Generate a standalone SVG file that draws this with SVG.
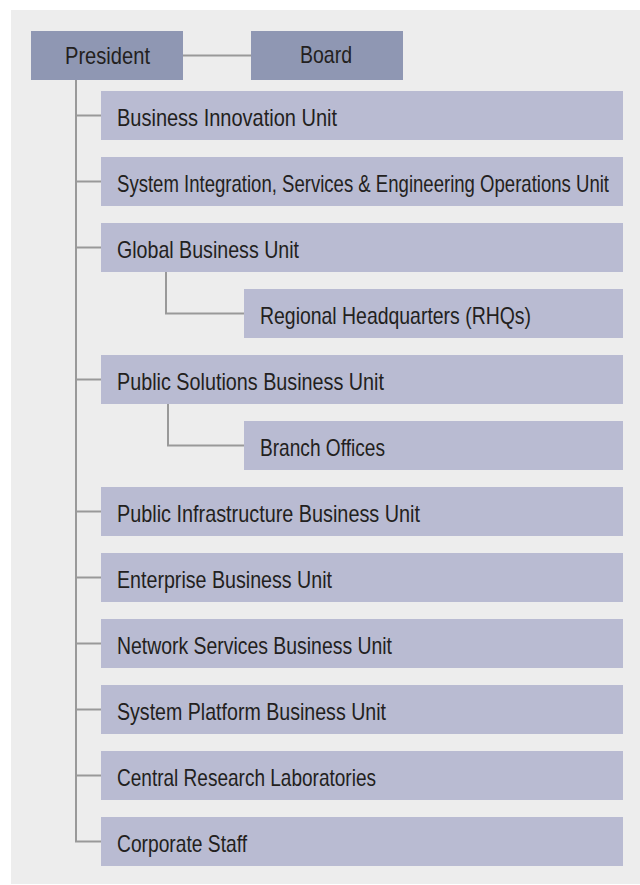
<svg xmlns="http://www.w3.org/2000/svg" width="640" height="885" viewBox="0 0 640 885">
<style>
.top{fill:#8f97b3}
.unit{fill:#b9bbd2}
.t{font-family:"Liberation Sans Narrow","Liberation Sans",Arial,sans-serif;font-size:24px;fill:#231f20}
.c{stroke:#999;stroke-width:2;fill:none}
</style>
<rect x="0" y="0" width="640" height="885" fill="#fff"/>
<rect x="11" y="10" width="629" height="874" fill="#ededed"/>
<g id="connectors">
<path class="c" d="M183 55.5H251"/>
<path class="c" d="M76 80V841.5H101"/>
<path class="c" d="M76 115.5H101M76 181.5H101M76 247.5H101M76 379.5H101M76 511.5H101M76 577.5H101M76 643.5H101M76 709.5H101M76 775.5H101"/>
<path class="c" d="M166 272V313.5H244"/>
<path class="c" d="M168 404V445.5H244"/>
</g>
<g id="president"><rect class="top" x="31" y="31" width="152" height="49"/><text class="t" x="65" y="64" textLength="85" lengthAdjust="spacingAndGlyphs">President</text></g>
<g id="board"><rect class="top" x="251" y="31" width="152" height="49"/><text class="t" x="300" y="63" textLength="52" lengthAdjust="spacingAndGlyphs">Board</text></g>
<g id="bi"><rect class="unit" x="101" y="91" width="522" height="49"/><text class="t" x="117" y="126" textLength="220" lengthAdjust="spacingAndGlyphs">Business Innovation Unit</text></g>
<g id="si"><rect class="unit" x="101" y="157" width="522" height="49"/><text class="t" transform="translate(117,192) scale(0.75,1)" x="0" y="0" textLength="656" lengthAdjust="spacingAndGlyphs">System Integration, Services &amp; Engineering Operations Unit</text></g>
<g id="gb"><rect class="unit" x="101" y="223" width="522" height="49"/><text class="t" x="117" y="258" textLength="182" lengthAdjust="spacingAndGlyphs">Global Business Unit</text></g>
<g id="rhq"><rect class="unit" x="244" y="289" width="379" height="49"/><text class="t" x="260" y="324" textLength="271" lengthAdjust="spacingAndGlyphs">Regional Headquarters (RHQs)</text></g>
<g id="ps"><rect class="unit" x="101" y="355" width="522" height="49"/><text class="t" x="117" y="390" textLength="267" lengthAdjust="spacingAndGlyphs">Public Solutions Business Unit</text></g>
<g id="bo"><rect class="unit" x="244" y="421" width="379" height="49"/><text class="t" x="260" y="456" textLength="125" lengthAdjust="spacingAndGlyphs">Branch Offices</text></g>
<g id="pi"><rect class="unit" x="101" y="487" width="522" height="49"/><text class="t" x="117" y="522" textLength="303" lengthAdjust="spacingAndGlyphs">Public Infrastructure Business Unit</text></g>
<g id="eb"><rect class="unit" x="101" y="553" width="522" height="49"/><text class="t" x="117" y="588" textLength="215" lengthAdjust="spacingAndGlyphs">Enterprise Business Unit</text></g>
<g id="ns"><rect class="unit" x="101" y="619" width="522" height="49"/><text class="t" x="117" y="654" textLength="275" lengthAdjust="spacingAndGlyphs">Network Services Business Unit</text></g>
<g id="sp"><rect class="unit" x="101" y="685" width="522" height="49"/><text class="t" x="117" y="720" textLength="269" lengthAdjust="spacingAndGlyphs">System Platform Business Unit</text></g>
<g id="cr"><rect class="unit" x="101" y="751" width="522" height="49"/><text class="t" x="117" y="786" textLength="259" lengthAdjust="spacingAndGlyphs">Central Research Laboratories</text></g>
<g id="cs"><rect class="unit" x="101" y="817" width="522" height="49"/><text class="t" x="117" y="852" textLength="130" lengthAdjust="spacingAndGlyphs">Corporate Staff</text></g>
</svg>
